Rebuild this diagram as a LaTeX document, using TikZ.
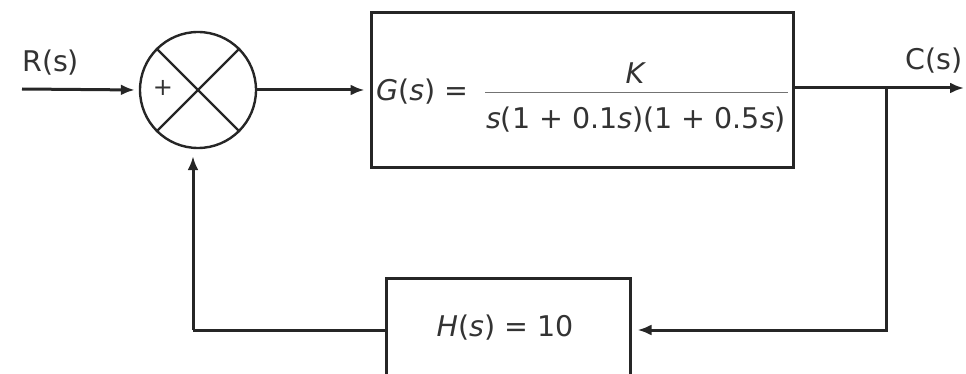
\documentclass[tikz,border=0pt]{standalone}
\usepackage{fontspec}
\setmainfont{DejaVu Sans}
\usetikzlibrary{arrows.meta}

\begin{document}
\begin{tikzpicture}
[
    x = 1pt, y = -1pt,
    every node/.append style = {text = black!80, font = \fontsize{28.5}{34}\selectfont},
    wire/.style = {line width = 3pt, black!85},
    feed/.style = {wire, -{Latex[length = 14pt, width = 11pt]}},
    block/.style = {draw, line width = 3pt, black!85, inner sep = 0},
    sumnode/.style = {circle, draw, line width = 2.4pt, black!85, minimum size = 116pt, inner sep = 0}]

\useasboundingbox (0,0) rectangle (966,374);

\node [sumnode] (sum) at (198,90) {};
\draw [line width = 2.4pt, black!85] (sum.north west) -- (sum.south east);
\draw [line width = 2.4pt, black!85] (sum.north east) -- (sum.south west);
\node [font = \fontsize{24}{28}\selectfont] (plus) at (163,88) {+};

\node [block, minimum width = 422pt, minimum height = 155pt] (gbox) at (582,90.5) {};
\node [anchor = west, inner sep = 0] (gtext) at (376,92) {\textit{G}(\textit{s}) =};
\node [inner sep = 0] (num) at (636,73) {\textit{K}};
\node [inner sep = 0] (den) at (636,120) {\textit{s}(1 + 0.1\textit{s})(1 + 0.5\textit{s})};
\draw [line width = 1pt, black!55] (485,93) -- (788,93);

\node [block, minimum width = 244pt, minimum height = 104pt] (hbox) at (508,330) {};
\node [inner sep = 0] (htext) at (505,328) {\textit{H}(\textit{s}) = 10};

\node [anchor = base west, inner sep = 0] (rlabel) at (22,72) {R(s)};
\node [anchor = base east, inner sep = 0] (clabel) at (963,70) {C(s)};

\coordinate (rin) at (22,89);
\coordinate (cout) at (964,88);
\coordinate (branch) at (886,88);
\coordinate (fbcorner) at (193,330);

\draw [feed, shorten > = 4pt] (rin) -- (sum.west);
\draw [feed, shorten > = 5pt] (sum.east) -- (gbox.west |- sum.east);
\draw [feed] (gbox.east |- cout) -- (cout);
\draw [feed, shorten > = 6pt] (branch) |- (hbox.east);
\draw [wire] (hbox.west) -- (fbcorner);
\draw [feed, shorten > = 7pt] (fbcorner) -- (fbcorner |- sum.south);

\end{tikzpicture}
\end{document}
